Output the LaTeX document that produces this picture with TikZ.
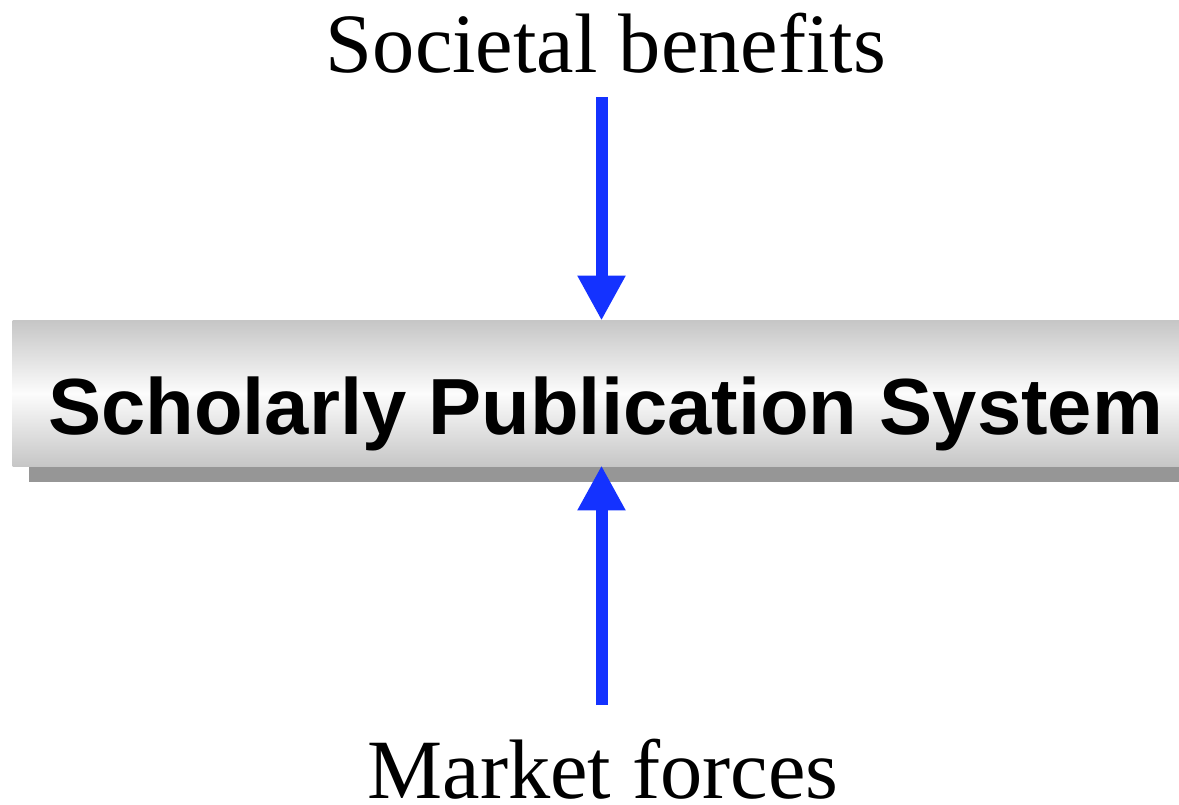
\documentclass[tikz,border=0pt]{standalone}
\usepackage{fontspec}
\setmainfont{Liberation Serif}
\newfontfamily\boldsans{Liberation Sans}
\usetikzlibrary{arrows.meta}
\definecolor{arrowblue}{RGB}{20,50,255}
\definecolor{boxgray}{RGB}{198,198,198}
\definecolor{boxlight}{RGB}{252,252,252}
\definecolor{shadowgray}{RGB}{150,150,150}
\tikzset{
  px/.style={x=0.5pt,y=-0.5pt},
  serlabel/.style={inner sep=0pt,anchor=base,font=\fontsize{42.2pt}{50pt}\selectfont},
  boxlabel/.style={inner sep=0pt,anchor=base,font=\boldsans\bfseries\fontsize{39.8pt}{48pt}\selectfont},
  bluearrow/.style={draw=arrowblue,line width=6pt,-{Triangle[width=22.5pt,length=22.5pt]}},
  barbox/.style={rectangle,inner sep=0pt,minimum width=583pt,minimum height=72.5pt},
  shadowbox/.style={rectangle,inner sep=0pt,minimum width=583pt,minimum height=72.5pt,fill=shadowgray}
}
\begin{document}
\begin{tikzpicture}[px]
\useasboundingbox (0,0) rectangle (1179,804);
\begin{scope}
\clip (0,0) rectangle (1179,804);
\node[shadowbox] (shadow) at (612,409.5) {};
\node[barbox] (sps) at (596,393.5) {};
\shade[top color=boxgray,bottom color=boxlight] (sps.north west) rectangle (sps.east);
\shade[top color=boxlight,bottom color=boxgray] (sps.west) rectangle (sps.south east);
\end{scope}
\node[boxlabel] (spslabel) at (605.5,434) {Scholarly Publication System};
\node[serlabel] (societal) at (606,72) {Societal benefits};
\node[serlabel] (market) at (603,798) {Market forces};
\coordinate (topstart) at (601.5,97);
\coordinate (botstart) at (601.5,705);
\draw[bluearrow] (topstart) -- (topstart |- sps.north);
\draw[bluearrow] (botstart) -- ([yshift=0.5pt]botstart |- sps.south);
\end{tikzpicture}
\end{document}
